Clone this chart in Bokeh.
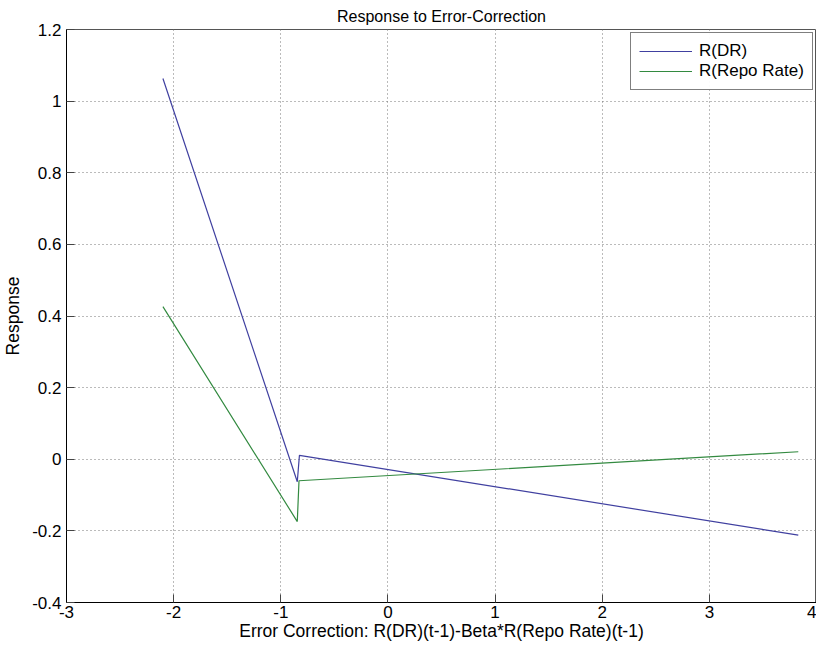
from bokeh.plotting import figure
from bokeh.models import FixedTicker, Range1d, Legend, LegendItem
from bokeh.embed import file_html
from bokeh.resources import INLINE

# Data
x_dr = [-2.1, -0.846, -0.826, 3.83]
y_dr = [1.063, -0.063, 0.011, -0.212]
x_repo = [-2.1, -0.846, -0.83, 3.83]
y_repo = [0.426, -0.174, -0.06, 0.021]

x_ticks = [-3, -2, -1, 0, 1, 2, 3, 4]
x_tick_labels = ["-3", "-2", "-1", "0", "1", "2", "3", "4"]
y_ticks = [-0.4, -0.2, 0, 0.2, 0.4, 0.6, 0.8, 1, 1.2]
y_tick_labels = ["-0.4", "-0.2", "0", "0.2", "0.4", "0.6", "0.8", "1", "1.2"]

FONT = "Liberation Sans"

p = figure(width=816, height=643, output_backend="svg", toolbar_location=None,
           x_range=Range1d(-3, 4), y_range=Range1d(-0.4, 1.2),
           min_border_left=65, min_border_top=26, min_border_bottom=38,
           min_border_right=0, title="Response to Error-Correction")

p.title.align = "center"
p.title.text_font = FONT
p.title.text_font_size = "16px"
p.title.text_font_style = "normal"
p.title.text_color = "black"

p.outline_line_color = "#555555"
p.outline_line_width = 1

r1 = p.line(x_dr, y_dr, line_color="#4040a0", line_width=1.2)
r2 = p.line(x_repo, y_repo, line_color="#338a40", line_width=1.2)

for ax in (p.xaxis[0], p.yaxis[0]):
    ax.major_label_text_font = FONT
    ax.major_label_text_font_size = "17px"
    ax.major_label_text_color = "black"
    ax.axis_label_text_font = FONT
    ax.axis_label_text_font_size = "17.5px"
    ax.axis_label_text_font_style = "normal"
    ax.axis_label_text_color = "black"
    ax.major_tick_in = 8
    ax.major_tick_out = 0
    ax.minor_tick_line_color = None
    ax.axis_line_color = "black"
    ax.major_tick_line_color = "#444444"

p.xaxis[0].ticker = FixedTicker(ticks=x_ticks)
p.yaxis[0].ticker = FixedTicker(ticks=y_ticks)
p.xaxis[0].major_label_overrides = {t: l for t, l in zip(x_ticks, x_tick_labels)}
p.yaxis[0].major_label_overrides = {t: l for t, l in zip(y_ticks, y_tick_labels)}
p.xaxis[0].axis_label = "Error Correction: R(DR)(t-1)-Beta*R(Repo Rate)(t-1)"
p.yaxis[0].axis_label = "Response"
p.xaxis[0].major_label_standoff = 3
p.xaxis[0].axis_label_standoff = 0
p.yaxis[0].major_label_standoff = 5
p.yaxis[0].axis_label_standoff = 6

p.xgrid.ticker = FixedTicker(ticks=x_ticks)
p.ygrid.ticker = FixedTicker(ticks=y_ticks)
for g in (p.xgrid[0], p.ygrid[0]):
    g.grid_line_color = "#777777"
    g.grid_line_dash = "1 3"
    g.grid_line_width = 1

legend = Legend(items=[LegendItem(label="R(DR)", renderers=[r1]),
                       LegendItem(label="R(Repo Rate)", renderers=[r2])],
                location=(564, 512))
legend.label_text_font = FONT
legend.label_text_font_size = "17px"
legend.label_text_color = "black"
legend.border_line_color = "black"
legend.border_line_width = 1
legend.glyph_width = 53
legend.glyph_height = 18
legend.label_height = 18
legend.label_standoff = 7
legend.spacing = 0
legend.padding = 8
legend.margin = 0
p.add_layout(legend)

open("out.html", "w").write(file_html(p, INLINE))
